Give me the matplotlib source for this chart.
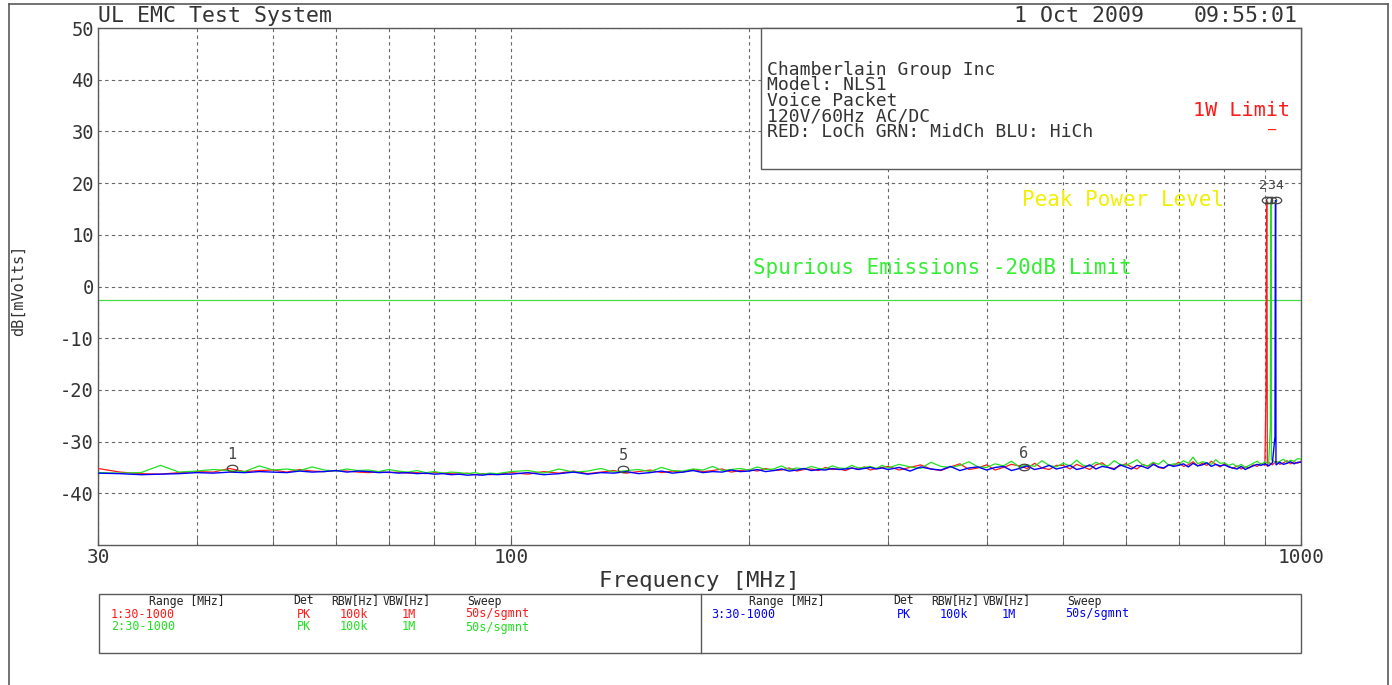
import numpy as np
import matplotlib
matplotlib.use('Agg')
import matplotlib.pyplot as plt
from matplotlib.path import Path
from matplotlib.transforms import Affine2D
from matplotlib.patches import Rectangle
from matplotlib.lines import Line2D

plt.rcParams['font.family'] = ['DejaVu Sans Mono', 'DejaVu Sans']

# sweep points (MHz)
freq = list(range(30, 100, 2)) + list(range(100, 300, 5)) + list(range(300, 1001, 10))

# trace 1 (LoCh, red)
red_db = [-35.2, -35.9, -36.2, -36.3, -36.0, -35.8, -35.9, -35.2, -35.8, -35.6,
          -35.5, -35.9, -35.4, -35.7, -35.8, -35.6, -35.7, -35.9, -36.0, -35.8,
          -36.0, -35.9, -36.1, -36.0, -36.2, -36.0, -36.1, -36.2, -36.3, -36.1,
          -36.4, -36.2, -36.4, -36.3, -36.2,
          -36.0, -36.3, -35.8, -36.1, -35.7, -36.2, -35.9, -35.6, -36.1, -35.8,
          -35.5, -36.0, -35.7, -35.9, -35.4, -35.8, -35.6, -35.3, -35.9, -35.6,
          -35.4, -35.7, -35.2, -35.6, -35.5, -35.1, -35.7, -35.4, -35.3, -35.6,
          -35.0, -35.4, -35.3, -35.6, -35.1, -35.3, -34.9, -35.5, -35.2, -35.0,
          -34.8, -35.5, -35.0, -34.5, -35.3, -35.6, -34.9, -34.3, -35.4, -35.1,
          -34.5, -35.5, -35.0, -34.4, -34.7, -35.2, -34.2, -35.1, -35.4, -34.6,
          -34.6, -35.3, -34.4, -34.9, -35.4, -34.5, -34.1, -35.0, -35.2, -34.7,
          -34.3, -34.9, -35.3, -34.4, -34.8, -34.1, -35.0, -35.2, -34.5, -34.6,
          -34.0, -34.8, -34.5, -33.9, -34.7, -34.2, -34.6, -33.8, -34.4, -34.9,
          -34.3, -34.8, -35.2, -34.7, -35.3, -34.9, -35.1, -34.5, -34.8, -34.2,
          -34.6, -34.0, -34.5, -33.8, -34.4, -34.1, -33.7, -34.3, -33.9, -34.2,
          -33.8]

# trace 2 (MidCh, green)
green_db = [-36.0, -36.1, -36.0, -34.6, -35.9, -35.7, -35.4, -35.6, -35.8, -34.7,
            -35.5, -35.3, -35.6, -34.9, -35.5, -35.7, -35.3, -35.6, -35.5, -35.8,
            -35.4, -35.7, -35.9, -35.6, -36.0, -35.8, -36.1, -35.9, -36.0, -36.2,
            -36.0, -36.3, -36.1, -36.2, -36.0,
            -35.8, -35.6, -36.1, -35.3, -35.9, -35.7, -35.2, -35.9, -35.6, -35.4,
            -35.8, -35.0, -35.6, -35.7, -35.3, -35.5, -34.8, -35.6, -35.4, -35.2,
            -35.5, -34.9, -35.4, -35.3, -34.7, -35.4, -35.1, -35.3, -34.8, -35.2,
            -35.3, -34.7, -35.1, -35.2, -34.6, -35.1, -35.0, -34.8, -35.2, -34.6,
            -35.1, -34.4, -34.9, -35.2, -34.0, -34.8, -35.0, -34.6, -33.9, -34.9,
            -35.0, -34.3, -34.7, -33.8, -34.9, -34.5, -34.8, -33.7, -34.6, -34.9,
            -34.2, -34.7, -33.6, -34.6, -34.8, -34.0, -34.5, -34.7, -33.7, -34.4,
            -34.6, -34.1, -33.5, -34.5, -34.7, -34.0, -34.4, -33.6, -34.6, -34.3,
            -34.4, -33.7, -34.2, -33.0, -34.3, -33.9, -34.1, -34.4, -33.5, -34.2,
            -34.1, -34.6, -34.3, -34.9, -34.4, -35.0, -34.6, -34.2, -33.8, -34.4,
            -33.9, -34.3, -33.6, -34.1, -33.8, -33.4, -34.0, -33.6, -33.8, -33.3,
            -33.4]

# trace 3 (HiCh, blue)
blue_db = [-36.1, -36.2, -36.4, -36.3, -36.2, -36.0, -36.1, -35.9, -36.0, -35.8,
           -35.9, -36.0, -35.7, -35.9, -35.8, -35.6, -35.9, -35.7, -35.8, -36.0,
           -35.9, -36.1, -36.0, -36.2, -36.1, -36.3, -36.2, -36.4, -36.3, -36.5,
           -36.4, -36.5, -36.3, -36.4, -36.3,
           -36.3, -36.0, -36.4, -36.2, -35.9, -36.3, -36.0, -36.1, -35.8, -36.2,
           -36.0, -35.7, -36.1, -35.9, -35.6, -36.0, -35.8, -35.9, -35.5, -35.8,
           -35.7, -35.4, -35.8, -35.6, -35.3, -35.7, -35.5, -35.2, -35.6, -35.4,
           -35.5, -35.2, -35.4, -35.3, -35.1, -35.4, -35.2, -35.0, -35.3, -35.1,
           -35.4, -35.0, -35.7, -34.9, -35.3, -35.5, -34.8, -35.6, -35.1, -34.9,
           -35.5, -35.0, -34.8, -35.6, -35.2, -34.7, -35.4, -35.1, -34.6, -35.3,
           -35.0, -34.6, -35.4, -35.1, -34.5, -35.3, -34.8, -35.0, -35.4, -34.5,
           -34.9, -35.3, -34.6, -34.8, -35.2, -34.4, -34.9, -35.1, -34.5, -34.8,
           -34.6, -34.3, -34.9, -34.2, -34.7, -34.5, -34.1, -34.8, -34.4, -34.7,
           -34.5, -34.9, -35.1, -35.3, -34.8, -35.4, -35.0, -34.7, -34.4, -34.6,
           -34.3, -34.7, -34.1, -34.5, -34.0, -34.4, -34.2, -33.9, -34.3, -34.0,
           -34.0]

# carrier spikes
red_spike_f = [903.0, 904.5, 905.5, 906.5]
red_spike_db = [-20.5, 16.6, 16.6, -34.8]
green_spike_f = [914.5, 915.5, 916.5, 917.5]
green_spike_db = [-27.0, 16.4, 16.4, -33.5]
blue_spike_f = [927.0, 928.0, 929.0, 929.6]
blue_spike_db = [-29.0, 16.6, 16.6, -34.2]

spur_limit = -2.6

marker_ids = ['1', '2', '3', '4', '5', '6']
marker_f = [44.3, 905.5, 916.0, 929.0, 138.6, 446.0]
marker_db = [-35.2, 16.8, 16.8, 16.8, -35.3, -35.0]

ytick_vals = [-40, -30, -20, -10, 0, 10, 20, 30, 40, 50]
ytick_labels = ['-40', '-30', '-20', '-10', '0', '10', '20', '30', '40', '50']
xtick_vals = [30, 100, 1000]
xtick_labels = ['30', '100', '1000']
xminor_vals = [40, 50, 60, 70, 80, 90, 200, 300, 400, 500, 600, 700, 800, 900]

info_lines = ['Chamberlain Group Inc', 'Model: NLS1', 'Voice Packet',
              '120V/60Hz AC/DC', 'RED: LoCh GRN: MidCh BLU: HiCh']
legend_headers = ['Range [MHz]', 'Det', 'RBW[Hz]', 'VBW[Hz]', 'Sweep']
legend_rows = [['1:30-1000', 'PK', '100k', '1M', '50s/sgmnt'],
               ['2:30-1000', 'PK', '100k', '1M', '50s/sgmnt'],
               ['3:30-1000', 'PK', '100k', '1M', '50s/sgmnt']]

RED = '#ff1a1a'
GRN = '#22e022'
BLU = '#0000ff'
FRAME = '#5a5a5a'
INK = '#333333'
W, H = 1392, 685


def px(x, y):
    return x / W, 1 - y / H


def merge(f, v, sf, sv):
    x = np.concatenate([np.asarray(f, float), np.asarray(sf, float)])
    y = np.concatenate([np.asarray(v, float), np.asarray(sv, float)])
    o = np.argsort(x, kind='stable')
    return x[o], y[o]


fig = plt.figure(figsize=(W / 100, H / 100), dpi=100)
fig.patch.set_facecolor('white')
l, b = px(98, 545)
r, t = px(1301, 28)
ax = fig.add_axes([l, b, r - l, t - b])

rf, rv = merge(freq, red_db, red_spike_f, red_spike_db)
gf, gv = merge(freq, green_db, green_spike_f, green_spike_db)
bf, bv = merge(freq, blue_db, blue_spike_f, blue_spike_db)
ax.plot(rf, rv, color=RED, lw=0.9, zorder=3)
ax.plot(gf, gv, color=GRN, lw=0.9, zorder=3)
ax.plot(bf, bv, color=BLU, lw=1.0, zorder=3)
ax.axhline(spur_limit, color='#44dd44', lw=0.9, zorder=2)

oval = Path.unit_circle().transformed(Affine2D().scale(1.6, 1.0))
ax.plot(marker_f, marker_db, linestyle='none', marker=oval, markersize=7.5,
        mfc='none', mec='#444444', mew=0.9, zorder=4)
# the three carrier markers sit almost on top of each other
label_ha = ['center', 'right', 'center', 'left', 'center', 'center']
label_fs = [11, 9.5, 9.5, 9.5, 11, 11]
for mid, f, d, ha, fs in zip(marker_ids, marker_f, marker_db, label_ha, label_fs):
    ax.annotate(mid, (f, d), xytext=(0, 10), textcoords='offset points',
                ha=ha, va='center', fontsize=fs, color='#444444', zorder=5)

ax.set_xscale('log')
ax.set_xlim(30, 1000)
ax.set_ylim(-50, 50)
ax.set_xticks(xtick_vals)
ax.set_xticklabels(xtick_labels)
ax.set_xticks(xminor_vals, minor=True)
ax.set_xticklabels([], minor=True)
ax.set_yticks(ytick_vals)
ax.set_yticklabels(ytick_labels)
ax.tick_params(axis='x', which='both', direction='in', length=5, color=FRAME,
               labelsize=14, labelcolor=INK, pad=2)
ax.tick_params(axis='y', length=0, labelsize=13.5, labelcolor=INK, pad=3)
ax.grid(True, which='both', axis='x', color='#666666', lw=0.8, linestyle=(0, (3, 3)))
ax.grid(True, which='major', axis='y', color='#666666', lw=0.8, linestyle=(0, (3, 3)))
for s in ax.spines.values():
    s.set_color(FRAME)
    s.set_linewidth(1.0)

# outer page frame
fig.add_artist(Line2D([px(9, 0)[0]] * 2, [px(0, 4)[1], 0], color=FRAME, lw=1.2))
fig.add_artist(Line2D([px(1388, 0)[0]] * 2, [px(0, 4)[1], 0], color=FRAME, lw=1.2))
fig.add_artist(Line2D([px(9, 0)[0], px(1388, 0)[0]], [px(0, 4)[1]] * 2, color=FRAME, lw=1.2))

# header texts
fig.text(*px(98, 16), 'UL EMC Test System', fontsize=15.5, va='center', color=INK)
fig.text(*px(1014, 16), '1 Oct 2009', fontsize=15.5, va='center', color=INK)
fig.text(*px(1298, 16), '09:55:01', fontsize=15.5, va='center', ha='right', color=INK)

# info box
bx0, by1 = px(761, 169)
bx1, by0 = px(1301, 28)
fig.add_artist(Rectangle((bx0, by1), bx1 - bx0, by0 - by1, transform=fig.transFigure,
                         facecolor='white', edgecolor=FRAME, lw=1.0, zorder=1))
for i, line in enumerate(info_lines):
    fig.text(*px(767, 70 + i * 15.5), line, fontsize=13, va='center',
             color=INK, zorder=3)
fig.text(*px(1290, 111), '1W Limit', fontsize=14.5, va='center', ha='right', color=RED, zorder=3)
fig.text(*px(1272, 131), '\u2014', fontsize=10, va='center', ha='center', color=RED, zorder=3)

fig.text(*px(1022, 200), 'Peak Power Level', fontsize=15, va='center', color='#f0f000', zorder=3)
fig.text(*px(753, 268), 'Spurious Emissions -20dB Limit', fontsize=15, va='center',
         color='#33ee33', zorder=3)

fig.text(*px(18, 290), 'dB[mVolts]', fontsize=11, rotation=90, va='center', ha='center',
         color=INK)
fig.text(*px(699, 581), 'Frequency [MHz]', fontsize=16, va='center', ha='center', color=INK)

# bottom settings table
lx0, ly1 = px(99, 653)
lx1, ly0 = px(1301, 594)
fig.add_artist(Rectangle((lx0, ly1), lx1 - lx0, ly0 - ly1, transform=fig.transFigure,
                         facecolor='none', edgecolor=FRAME, lw=1.0))
fig.add_artist(Line2D([px(701, 0)[0]] * 2, [ly1, ly0], color=FRAME, lw=1.0))
head_x = [149, 293, 331, 383, 467]
row_x = [111, 297, 340, 402, 465]
row_colors = [RED, GRN, BLU]
for shift in [0, 600]:
    for hx, h in zip(head_x, legend_headers):
        fig.text(*px(hx + shift, 601), h, fontsize=8.3, va='center', color='#222222')
rows_pos = [(0, 614), (0, 627), (600, 614)]
for (shift, ry), row, c in zip(rows_pos, legend_rows, row_colors):
    for cx, cell in zip(row_x, row):
        fig.text(*px(cx + shift, ry), cell, fontsize=8.5, va='center', color=c)

fig.savefig('out.png', dpi=100, facecolor='white')
